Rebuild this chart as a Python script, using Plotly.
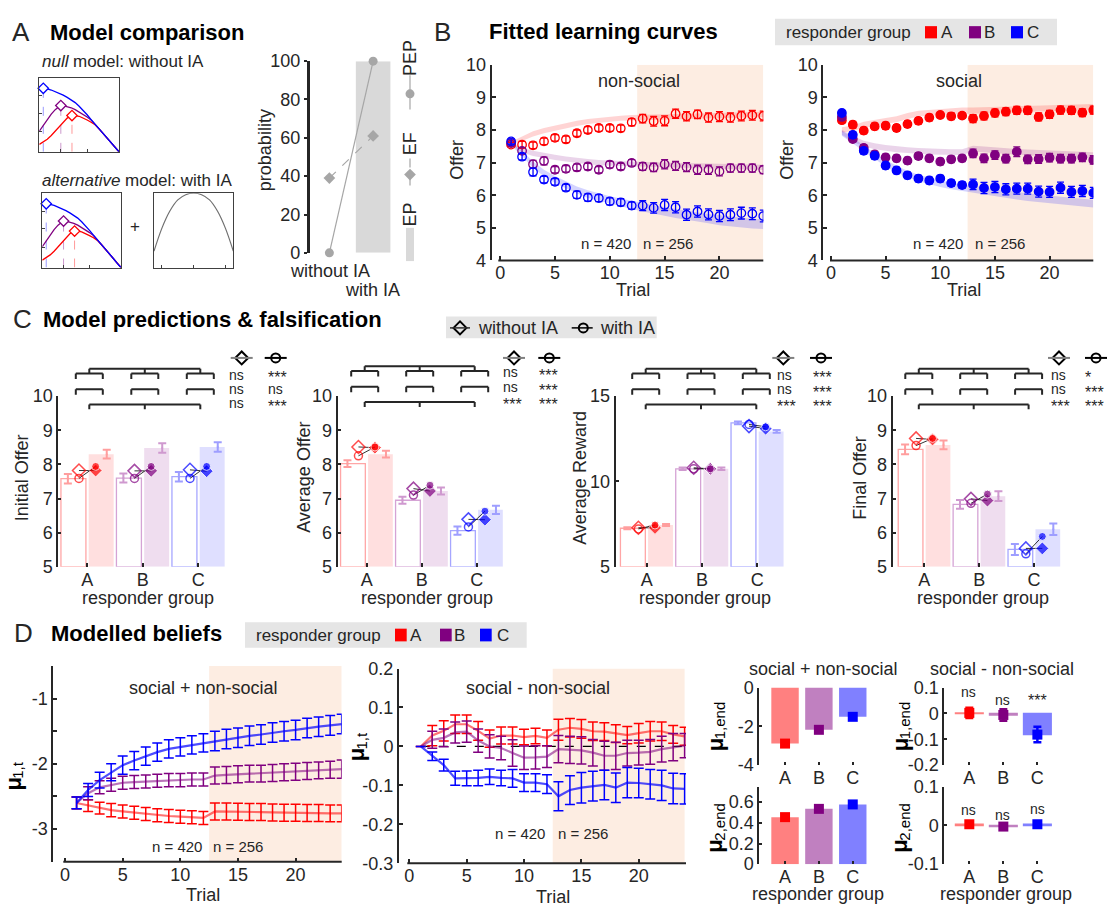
import plotly.graph_objects as go

W, H = 1111, 914
TXT = "#262626"
AXC = "#262626"
RED, PUR, BLU = "#FF0000", "#800080", "#0000FF"
GCOL = [RED, PUR, BLU]
PALE_EDGE = ["#FFA6A6", "#D5A3D5", "#A6A6FF"]
PALE_FILL = ["#FFDFDF", "#EFDDEF", "#DFDFFF"]
PALE_ERR = ["#FF9E9E", "#CF99CF", "#9E9EFF"]
BAND = ["rgba(255,0,0,0.17)", "rgba(128,0,128,0.17)", "rgba(0,0,255,0.17)"]
D_BAR = ["#FF8080", "#C080C0", "#8080FF"]
D_LINE = ["rgba(255,0,0,0.55)", "rgba(128,0,128,0.55)", "rgba(0,0,255,0.7)"]
VLINE = ["#FF9999", "#CC99CC", "#9999FF"]
SHADE = "#FDEDE2"
LEG_BG = "#E5E5E5"

# ======================= DATA =======================
groups = ["A", "B", "C"]
trials = list(range(1, 25))

# Panel A: schematic curves (box units)
curve_x = [0, 0.05, 0.1, 0.15, 0.2, 0.25, 0.3, 0.35, 0.4, 0.45, 0.5, 0.55, 0.6, 0.65, 0.7, 0.75, 0.8, 0.85, 0.9, 0.95, 1.0]
curve_A = [0.10, 0.13, 0.17, 0.22, 0.28, 0.34, 0.405, 0.455, 0.485, 0.49, 0.48, 0.46, 0.43, 0.40, 0.365, 0.31, 0.25, 0.19, 0.125, 0.06, 0.0]
curve_B = [0.28, 0.36, 0.44, 0.51, 0.57, 0.612, 0.625, 0.615, 0.595, 0.57, 0.54, 0.505, 0.47, 0.43, 0.375, 0.31, 0.25, 0.19, 0.125, 0.06, 0.0]
curve_C = [0.86, 0.858, 0.85, 0.835, 0.815, 0.79, 0.765, 0.735, 0.705, 0.665, 0.615, 0.56, 0.5, 0.435, 0.375, 0.31, 0.25, 0.19, 0.125, 0.06, 0.0]
peak_x = [0.41, 0.27, 0.05]
peak_y = [0.49, 0.625, 0.858]
ia_x = [0, 0.1, 0.2, 0.3, 0.4, 0.5, 0.6, 0.7, 0.8, 0.9, 1.0]
ia_y = [0.22, 0.53, 0.76, 0.91, 0.98, 1.0, 0.98, 0.91, 0.76, 0.53, 0.22]

models = ["without IA", "with IA"]
pep = [0, 100]
ef = [39, 61]
ep = [0, 100]

# Panel B: observed offers (non-social, social)
ns_A = [7.55, 7.55, 7.53, 7.65, 7.76, 7.71, 7.90, 8.00, 8.06, 8.06, 8.05, 8.24, 8.35, 8.27, 8.28, 8.50, 8.42, 8.48, 8.38, 8.41, 8.38, 8.43, 8.45, 8.43]
ns_B = [7.60, 7.36, 6.95, 7.05, 6.78, 6.81, 6.85, 6.88, 6.78, 6.94, 6.88, 6.99, 6.88, 6.85, 6.95, 6.90, 6.86, 6.78, 6.78, 6.73, 6.83, 6.83, 6.83, 6.78]
ns_C = [7.65, 7.18, 6.71, 6.48, 6.41, 6.23, 6.01, 5.93, 5.91, 5.81, 5.78, 5.68, 5.68, 5.61, 5.70, 5.63, 5.40, 5.50, 5.41, 5.36, 5.40, 5.45, 5.43, 5.36]
ns_A_err = [0.06, 0.1, 0.1, 0.1, 0.1, 0.1, 0.1, 0.1, 0.1, 0.1, 0.1, 0.11, 0.13, 0.15, 0.15, 0.14, 0.14, 0.13, 0.14, 0.15, 0.14, 0.15, 0.15, 0.15]
ns_B_err = [0.06, 0.1, 0.12, 0.12, 0.1, 0.1, 0.1, 0.1, 0.1, 0.1, 0.1, 0.1, 0.12, 0.13, 0.14, 0.14, 0.14, 0.14, 0.14, 0.14, 0.12, 0.12, 0.12, 0.12]
ns_C_err = [0.08, 0.1, 0.12, 0.1, 0.1, 0.1, 0.11, 0.11, 0.11, 0.11, 0.11, 0.11, 0.15, 0.16, 0.17, 0.17, 0.17, 0.17, 0.17, 0.17, 0.18, 0.18, 0.18, 0.18]
s_A = [8.30, 8.16, 7.98, 8.11, 8.13, 8.06, 8.18, 8.28, 8.38, 8.46, 8.42, 8.44, 8.35, 8.43, 8.52, 8.56, 8.60, 8.60, 8.40, 8.48, 8.61, 8.60, 8.53, 8.61]
s_B = [8.40, 7.72, 7.45, 7.25, 7.16, 7.13, 7.06, 7.20, 7.13, 7.03, 7.10, 7.13, 7.28, 7.13, 7.23, 7.12, 7.33, 7.10, 7.11, 7.15, 7.12, 7.12, 7.16, 7.08]
s_C = [8.52, 7.85, 7.36, 7.21, 6.91, 6.76, 6.61, 6.51, 6.45, 6.51, 6.37, 6.31, 6.33, 6.22, 6.25, 6.18, 6.20, 6.20, 6.11, 6.10, 6.23, 6.10, 6.13, 6.07]
s_A_err = [0.08, 0.1, 0.1, 0.1, 0.1, 0.1, 0.1, 0.1, 0.1, 0.08, 0.1, 0.08, 0.12, 0.12, 0.12, 0.12, 0.12, 0.12, 0.12, 0.12, 0.12, 0.12, 0.12, 0.12]
s_B_err = [0.08, 0.08, 0.1, 0.1, 0.1, 0.1, 0.1, 0.1, 0.1, 0.1, 0.1, 0.1, 0.13, 0.13, 0.13, 0.13, 0.15, 0.13, 0.13, 0.13, 0.13, 0.13, 0.13, 0.13]
s_C_err = [0.08, 0.1, 0.1, 0.1, 0.1, 0.1, 0.1, 0.1, 0.1, 0.1, 0.1, 0.1, 0.16, 0.17, 0.17, 0.17, 0.17, 0.17, 0.17, 0.17, 0.17, 0.17, 0.17, 0.17]

# Panel B: fitted curves (centre and half width of band)
nsfit_A = [7.60, 7.73, 7.88, 7.98, 8.06, 8.13, 8.20, 8.26, 8.30, 8.33, 8.36, 8.38, 8.38, 8.39, 8.40, 8.41, 8.42, 8.43, 8.44, 8.45, 8.46, 8.46, 8.47, 8.48]
nsfit_B = [7.60, 7.38, 7.28, 7.21, 7.16, 7.11, 7.06, 7.03, 7.00, 6.98, 6.97, 6.95, 6.94, 6.93, 6.92, 6.91, 6.90, 6.89, 6.89, 6.88, 6.87, 6.86, 6.86, 6.85]
nsfit_C = [7.58, 7.28, 6.93, 6.68, 6.48, 6.31, 6.16, 6.03, 5.93, 5.85, 5.78, 5.71, 5.63, 5.56, 5.50, 5.44, 5.38, 5.33, 5.28, 5.23, 5.19, 5.16, 5.13, 5.11]
nsfit_hw_A = [0.04, 0.07, 0.08, 0.08, 0.08, 0.08, 0.08, 0.08, 0.08, 0.08, 0.08, 0.08, 0.08, 0.08, 0.08, 0.08, 0.08, 0.08, 0.08, 0.08, 0.08, 0.08, 0.08, 0.08]
nsfit_hw_B = [0.04, 0.07, 0.08, 0.08, 0.08, 0.08, 0.08, 0.08, 0.08, 0.08, 0.08, 0.08, 0.08, 0.08, 0.08, 0.08, 0.08, 0.08, 0.08, 0.08, 0.08, 0.08, 0.08, 0.08]
nsfit_hw_C = [0.05, 0.08, 0.1, 0.1, 0.11, 0.11, 0.11, 0.12, 0.12, 0.12, 0.12, 0.13, 0.13, 0.13, 0.13, 0.14, 0.14, 0.14, 0.14, 0.15, 0.15, 0.15, 0.15, 0.15]
sfit_A = [8.00, 8.05, 8.16, 8.23, 8.28, 8.33, 8.43, 8.50, 8.53, 8.56, 8.58, 8.60, 8.60, 8.61, 8.63, 8.64, 8.65, 8.66, 8.67, 8.68, 8.69, 8.70, 8.70, 8.71]
sfit_B = [7.93, 7.73, 7.58, 7.50, 7.45, 7.41, 7.38, 7.36, 7.34, 7.33, 7.32, 7.32, 7.43, 7.40, 7.37, 7.35, 7.33, 7.31, 7.30, 7.28, 7.27, 7.25, 7.24, 7.23]
sfit_C = [7.90, 7.68, 7.43, 7.21, 6.98, 6.80, 6.65, 6.53, 6.43, 6.35, 6.28, 6.22, 6.18, 6.12, 6.07, 6.03, 5.98, 5.94, 5.90, 5.86, 5.83, 5.80, 5.77, 5.74]
sfit_hw_A = [0.08, 0.09, 0.09, 0.09, 0.09, 0.09, 0.09, 0.09, 0.09, 0.09, 0.09, 0.09, 0.09, 0.09, 0.09, 0.09, 0.09, 0.09, 0.09, 0.09, 0.09, 0.09, 0.09, 0.09]
sfit_hw_B = [0.08, 0.09, 0.09, 0.09, 0.09, 0.09, 0.09, 0.09, 0.09, 0.09, 0.09, 0.09, 0.09, 0.09, 0.09, 0.09, 0.09, 0.09, 0.09, 0.09, 0.09, 0.09, 0.09, 0.09]
sfit_hw_C = [0.08, 0.09, 0.09, 0.1, 0.1, 0.1, 0.1, 0.1, 0.1, 0.1, 0.1, 0.1, 0.11, 0.11, 0.11, 0.11, 0.11, 0.12, 0.12, 0.12, 0.12, 0.12, 0.12, 0.12]

# Panel C: empirical (bars) and model predictions (markers)
init_ns = [7.58, 7.60, 7.64]
init_ns_err = [0.14, 0.13, 0.14]
init_s = [8.30, 8.48, 8.51]
init_s_err = [0.13, 0.14, 0.14]
init_ns_noIA = [7.82, 7.81, 7.84]
init_ns_IA = [7.59, 7.59, 7.59]
init_s_noIA = [7.82, 7.81, 7.80]
init_s_IA = [7.94, 7.94, 7.94]
sig_init = [["ns", "ns", "ns"], ["***", "ns", "***"]]

avg_ns = [8.02, 6.95, 6.06]
avg_ns_err = [0.1, 0.1, 0.12]
avg_s = [8.30, 7.22, 6.67]
avg_s_err = [0.1, 0.1, 0.12]
avg_ns_noIA = [8.51, 7.29, 6.39]
avg_ns_IA = [8.25, 7.10, 6.17]
avg_s_noIA = [8.49, 7.22, 6.38]
avg_s_IA = [8.51, 7.39, 6.63]
sig_avg = [["ns", "ns", "***"], ["***", "***", "***"]]

rew_ns = [7.26, 10.74, 13.43]
rew_ns_err = [0.06, 0.07, 0.08]
rew_s = [7.45, 10.74, 12.93]
rew_s_err = [0.06, 0.07, 0.08]
rew_ns_noIA = [7.29, 10.80, 13.24]
rew_ns_IA = [7.22, 10.74, 13.34]
rew_s_noIA = [7.28, 10.74, 13.09]
rew_s_IA = [7.45, 10.74, 13.20]
sig_rew = [["ns", "ns", "***"], ["***", "***", "***"]]

fin_ns = [8.44, 6.83, 5.51]
fin_ns_err = [0.14, 0.13, 0.16]
fin_s = [8.57, 7.07, 6.10]
fin_s_err = [0.13, 0.14, 0.17]
fin_ns_noIA = [8.76, 6.99, 5.54]
fin_ns_IA = [8.55, 6.86, 5.38]
fin_s_noIA = [8.73, 6.94, 5.54]
fin_s_IA = [8.76, 7.13, 5.89]
sig_fin = [["ns", "ns", "***"], ["*", "***", "***"]]

# Panel D: modelled beliefs
d1_A = [-2.60, -2.64, -2.68, -2.71, -2.73, -2.75, -2.77, -2.79, -2.80, -2.81, -2.82, -2.83, -2.73, -2.73, -2.735, -2.74, -2.74, -2.745, -2.75, -2.75, -2.755, -2.755, -2.76, -2.76]
d1_B = [-2.60, -2.45, -2.36, -2.32, -2.29, -2.28, -2.27, -2.26, -2.25, -2.25, -2.24, -2.24, -2.18, -2.17, -2.16, -2.15, -2.15, -2.14, -2.13, -2.12, -2.11, -2.10, -2.09, -2.08]
d1_C = [-2.60, -2.40, -2.25, -2.13, -2.02, -1.95, -1.88, -1.82, -1.77, -1.74, -1.71, -1.68, -1.65, -1.62, -1.60, -1.57, -1.55, -1.52, -1.50, -1.48, -1.45, -1.43, -1.41, -1.39]
d1_A_err = [0.09, 0.09, 0.09, 0.1, 0.1, 0.1, 0.1, 0.1, 0.1, 0.1, 0.1, 0.1, 0.13, 0.13, 0.13, 0.13, 0.13, 0.13, 0.13, 0.13, 0.13, 0.13, 0.13, 0.13]
d1_B_err = [0.09, 0.1, 0.1, 0.1, 0.1, 0.1, 0.1, 0.1, 0.1, 0.1, 0.1, 0.1, 0.13, 0.13, 0.13, 0.13, 0.13, 0.13, 0.13, 0.13, 0.13, 0.13, 0.13, 0.14]
d1_C_err = [0.09, 0.1, 0.12, 0.13, 0.14, 0.14, 0.14, 0.14, 0.14, 0.14, 0.14, 0.14, 0.15, 0.15, 0.15, 0.15, 0.15, 0.15, 0.15, 0.15, 0.15, 0.15, 0.15, 0.15]
d2_A = [0.0, 0.028, 0.04, 0.057, 0.057, 0.04, 0.02, 0.028, 0.028, 0.024, 0.027, 0.022, 0.043, 0.048, 0.045, 0.039, 0.038, 0.033, 0.029, 0.034, 0.039, 0.039, 0.031, 0.026]
d2_B = [0.0, 0.017, 0.022, 0.036, 0.038, 0.015, 0.0, -0.004, -0.017, -0.029, -0.028, -0.026, -0.007, -0.009, -0.01, -0.016, -0.024, -0.024, -0.017, -0.016, -0.014, -0.007, -0.002, 0.002]
d2_C = [0.0, -0.025, -0.048, -0.082, -0.082, -0.081, -0.078, -0.081, -0.082, -0.093, -0.093, -0.097, -0.128, -0.112, -0.106, -0.102, -0.099, -0.106, -0.093, -0.094, -0.097, -0.1, -0.108, -0.109]
d2_A_err = [0, 0.026, 0.026, 0.024, 0.024, 0.024, 0.022, 0.022, 0.022, 0.02, 0.02, 0.02, 0.027, 0.024, 0.024, 0.024, 0.023, 0.023, 0.022, 0.025, 0.025, 0.024, 0.023, 0.023]
d2_B_err = [0, 0.022, 0.023, 0.027, 0.027, 0.03, 0.03, 0.03, 0.034, 0.03, 0.03, 0.028, 0.035, 0.035, 0.035, 0.034, 0.037, 0.035, 0.033, 0.032, 0.032, 0.033, 0.035, 0.031]
d2_C_err = [0, 0.011, 0.015, 0.018, 0.019, 0.02, 0.02, 0.02, 0.023, 0.023, 0.023, 0.024, 0.037, 0.037, 0.039, 0.038, 0.038, 0.038, 0.039, 0.038, 0.038, 0.039, 0.039, 0.039]

mu1_sum = [-2.89, -2.18, -1.51]
mu1_sum_err = [0.1, 0.08, 0.12]
mu2_sum = [0.455, 0.535, 0.578]
mu2_sum_err = [0.012, 0.01, 0.02]
mu1_diff = [0.002, -0.006, -0.082]
mu1_diff_err = [0.02, 0.022, 0.03]
mu2_diff = [0.003, -0.003, 0.003]
mu2_diff_err = [0.003, 0.003, 0.003]
sig_mu1_diff = ["ns", "ns", "***"]
sig_mu2_diff = ["ns", "ns", "ns"]

# ======================= FIGURE =======================
fig = go.Figure()
layout = dict(width=W, height=H, margin=dict(l=0, r=0, t=0, b=0), paper_bgcolor="white",
              plot_bgcolor="rgba(0,0,0,0)", showlegend=False, barmode="overlay",
              font=dict(family="Arial", size=17, color=TXT))
shapes, annotations, overlay = [], [], []
_n = [0]
TICKSIZE = 18


def new_axes(x0, x1, y0, y1, xr, yr, xa=None, ya=None):
    _n[0] += 1
    k = _n[0]
    s = "" if k == 1 else str(k)
    base = dict(showgrid=False, zeroline=False, showline=False, ticks="", showticklabels=False, fixedrange=True)
    xd = dict(base, domain=[max(0, x0 / W), min(1, x1 / W)], range=xr, anchor="y" + s)
    yd = dict(base, domain=[max(0, 1 - y1 / H), min(1, 1 - y0 / H)], range=yr, anchor="x" + s)
    if xa:
        xd.update(xa)
    if ya:
        yd.update(ya)
    layout["xaxis" + s] = xd
    layout["yaxis" + s] = yd
    return "x" + s, "y" + s


def tk(vals, text=None, ticks="inside", length=4, width=1.5, size=TICKSIZE):
    d = dict(tickvals=vals, showticklabels=True, ticks=ticks, ticklen=length, tickwidth=width,
             tickcolor=AXC, tickfont=dict(size=size, color=TXT, family="Arial"))
    if text is not None:
        d["ticktext"] = text
    return d


LINE = dict(showline=True, linecolor=AXC, linewidth=2)


def text(px, py, s, size=17, xa="center", ya="middle", angle=0, color=TXT, pad=1, weight="normal",
         style="normal"):
    annotations.append(dict(x=px / W, y=1 - py / H, xref="paper", yref="paper", text=s, showarrow=False,
                            xanchor=xa, yanchor=ya, textangle=angle, borderpad=pad,
                            font=dict(size=size, color=color, family="Arial", weight=weight, style=style)))


def title(px, py, s):
    text(px, py, s, size=22, xa="left", color="#000000", weight="bold")


def mu_label(px, py, sub):
    # bold mu followed by a subscript, rotated to read bottom-to-top
    sub_len = {"1,t": 16.7, "1,end": 37.5, "2,end": 37.5}[sub]
    total = 12.7 + sub_len
    text(px, py + total / 2 - 6.4, "μ", size=22, angle=-90, color="#000000", weight="bold", pad=0)
    text(px + 4.5, py + total / 2 - 12.7 - sub_len / 2, sub, size=15, angle=-90, color="#000000", pad=0)


def sig_text(px, py, s, xa="left"):
    # asterisks sit high in the font, so they are lowered to line up with "ns"
    if "*" in s:
        text(px, py + 3.5, s, size=16, xa=xa, pad=0)
    else:
        text(px, py, s, size=14, xa=xa, pad=0)


def pline(x0, y0, x1, y1, color=AXC, width=2, dash="solid"):
    shapes.append(dict(type="line", xref="paper", yref="paper", x0=x0 / W, y0=1 - y0 / H, x1=x1 / W,
                       y1=1 - y1 / H, line=dict(color=color, width=width, dash=dash)))


def prect(x0, y0, x1, y1, fill):
    shapes.append(dict(type="rect", xref="paper", yref="paper", x0=x0 / W, y0=1 - y1 / H, x1=x1 / W,
                       y1=1 - y0 / H, fillcolor=fill, line=dict(width=0), layer="below"))


def ppath(segs, color=AXC, width=2):
    d = "".join("M{:.5f},{:.5f}L{:.5f},{:.5f}".format(a / W, 1 - b / H, c / W, 1 - e / H) for a, b, c, e in segs)
    shapes.append(dict(type="path", xref="paper", yref="paper", path=d, line=dict(color=color, width=width)))


def drect(xn, yn, x0, x1, y0, y1, fill):
    shapes.append(dict(type="rect", xref=xn, yref=yn, x0=x0, x1=x1, y0=y0, y1=y1, fillcolor=fill,
                       line=dict(width=0), layer="below"))


def add(tr, xn, yn):
    tr.update(xaxis=xn, yaxis=yn)
    fig.add_trace(tr)


# ---------------- Panel A ----------------
text(10, 23, "A", size=26, xa="left")
title(48, 23, "Model comparison")
text(41, 53, "null", xa="left", style="italic", pad=0)
text(41 + 26.5 + 4.7, 53, "model: without IA", xa="left", pad=0)
text(41, 174.5, "alternative", xa="left", style="italic", pad=0)
text(41 + 78.4 + 4.7, 174.5, "model: with IA", xa="left", pad=0)
text(135, 221.7, "+", size=17)

box_style = dict(showline=True, mirror=True, linecolor="#404040", linewidth=1, ticks="inside", ticklen=3,
                 tickcolor="#404040", tickwidth=1)


def value_box(x0, x1, y0, y1):
    xn, yn = new_axes(x0, x1, y0, y1, [0, 1], [0, 1.0],
                      xa=dict(box_style, tickvals=[0.27, 0.6]), ya=dict(box_style, tickvals=[0.27, 0.52, 0.76]))
    for g in range(3):
        add(go.Scatter(x=[peak_x[g], peak_x[g]], y=[0, peak_y[g]], mode="lines",
                       line=dict(color=VLINE[g], width=1, dash="dash")), xn, yn)
    for g, cv in zip([0, 1, 2], [curve_A, curve_B, curve_C]):
        add(go.Scatter(x=curve_x, y=cv, mode="lines", line=dict(color=GCOL[g], width=1.3)), xn, yn)
    for g in range(3):
        add(go.Scatter(x=[peak_x[g]], y=[peak_y[g]], mode="markers", cliponaxis=False,
                       marker=dict(symbol="diamond", size=8, color="white",
                                   line=dict(color=GCOL[g], width=1.3))), xn, yn)


value_box(39.3, 119, 69.3, 145)
value_box(42.3, 121, 187.3, 263.3)
xn, yn = new_axes(154, 233.3, 187.3, 263.3, [0, 1], [0, 1.0],
                  xa=dict(box_style, tickvals=[0.1, 0.5, 0.9]), ya=dict(box_style, tickvals=[]))
add(go.Scatter(x=ia_x, y=ia_y, mode="lines", line=dict(color="#707070", width=1.2, shape="spline")), xn, yn)

xn, yn = new_axes(309.7, 395, 52.3, 248.3, [0.55, 2.5], [0, 100],
                  ya=dict(LINE, linewidth=2.5, **tk([0, 20, 40, 60, 80, 100], ticks="outside", length=3)))
add(go.Bar(x=[1, 2], y=ep, width=0.79, marker=dict(color="#D9D9D9", line=dict(width=0))), xn, yn)
add(go.Scatter(x=[1, 2], y=pep, mode="lines+markers", cliponaxis=False, line=dict(color="#A6A6A6", width=1.2),
               marker=dict(symbol="circle", size=9, color="#A6A6A6")), xn, yn)
add(go.Scatter(x=[1, 2], y=ef, mode="lines+markers", cliponaxis=False,
               line=dict(color="#A6A6A6", width=1.2, dash="dash"),
               marker=dict(symbol="diamond", size=9, color="#A6A6A6")), xn, yn)
text(265, 143.3, "probability", size=18, angle=-90)
text(330, 266.7, models[0], size=18)
text(372, 286.7, models[1], size=18)
text(410, 49, "PEP", size=18, angle=-90)
text(410, 137.3, "EF", size=18, angle=-90)
text(410, 209, "EP", size=18, angle=-90)
pline(410, 66.7, 410, 101.7, "#A6A6A6", 1.2)
overlay.append((410, 85.7, "circle", 9, "#A6A6A6", "#A6A6A6", 0))
pline(410, 151.7, 410, 185, "#A6A6A6", 1.2, "dash")
overlay.append((410, 168.3, "diamond", 9, "#A6A6A6", "#A6A6A6", 0))
prect(406, 222.7, 414, 256.7, "#D9D9D9")

# ---------------- Panel B ----------------
text(432, 22, "B", size=26, xa="left")
title(487, 22, "Fitted learning curves")
prect(775, 9, 1057, 36, LEG_BG)
text(784, 22.7, "responder group", xa="left")
for g, (xs, xl) in enumerate([(925, 939), (969, 982), (1011, 1025)]):
    prect(xs, 16.5, xs + 12, 29, GCOL[g])
    text(xl, 22.7, groups[g], xa="left")


def b_panel(x0, x1, xr, obs, errs, fits, hws, filled, label, label_x, n_x, xaxis_start):
    xn, yn = new_axes(x0, x1, 56, 256, xr, [4, 10], xa=tk([0, 5, 10, 15, 20]),
                      ya=dict(LINE, **tk([4, 5, 6, 7, 8, 9, 10])))
    drect(xn, yn, 12.5, 24, 4, 10, SHADE)
    pline(xaxis_start, 256, x1, 256)
    for g in range(3):
        up = [c + h for c, h in zip(fits[g], hws[g])]
        lo = [c - h for c, h in zip(fits[g], hws[g])]
        add(go.Scatter(x=trials + trials[::-1], y=up + lo[::-1], mode="lines", fill="toself",
                       fillcolor=BAND[g], line=dict(width=0)), xn, yn)
    for g in range(3):
        add(go.Scatter(x=trials, y=obs[g], mode="markers",
                       marker=dict(symbol="circle" if filled else "circle-open", size=8.5, color=GCOL[g],
                                   line=dict(color=GCOL[g], width=1.3)),
                       error_y=dict(type="data", array=errs[g], color=GCOL[g], thickness=1.3, width=3.5)),
            xn, yn)
    text(label_x, 73, label, size=18)
    text(n_x[0], 239, "n = 420", size=15)
    text(n_x[1], 239, "n = 256", size=15)
    return xn, yn


b_panel(491.7, 763.3, [-0.77, 24], [ns_A, ns_B, ns_C], [ns_A_err, ns_B_err, ns_C_err],
        [nsfit_A, nsfit_B, nsfit_C], [nsfit_hw_A, nsfit_hw_B, nsfit_hw_C], False, "non-social", 639,
        (606, 668), 498.3)
b_panel(823.3, 1093.3, [-0.7, 24], [s_A, s_B, s_C], [s_A_err, s_B_err, s_C_err],
        [sfit_A, sfit_B, sfit_C], [sfit_hw_A, sfit_hw_B, sfit_hw_C], True, "social", 959,
        (938, 1000), 830)
text(457, 153, "Offer", size=18, angle=-90)
text(787, 153, "Offer", size=18, angle=-90)
text(633, 286, "Trial", size=18)
text(964, 286, "Trial", size=18)

# ---------------- Panel C ----------------
text(11, 316, "C", size=26, xa="left")
title(41, 316, "Model predictions &amp; falsification")
prect(446, 313.3, 656.7, 335.7, LEG_BG)
pline(450, 325, 470, 325, "#303030", 1.5)
overlay.append((460, 325, "diamond-open", 10, "#000000", "#000000", 2))
text(476, 325, "without IA", size=18, xa="left")
pline(571.7, 325, 592.7, 325, "#000000", 1.5)
overlay.append((583.3, 325, "circle-open", 9, "#000000", "#000000", 2))
text(597.5, 325, "with IA", size=18, xa="left")


def c_panel(xa_px, a_px, sp, yr, yt, ns, ns_e, s, s_e, ns0, ns1, s0, s1, sig, cols, hdrs, ytitle,
            ytitle_x, bshift, bdy, xlab_x):
    right_px = a_px + 2 * sp + 28
    xr = [1 - (a_px - xa_px) / sp, 1 + (right_px - a_px) / sp]
    xn, yn = new_axes(xa_px, right_px, 394.7, 569.3, xr, yr, xa=tk([1, 2, 3], groups, width=2, length=4),
                      ya=dict(LINE, **tk(yt, length=3)))
    ymin = yr[0]
    pos = [1, 2, 3]
    add(go.Bar(x=[p - 0.25 for p in pos], y=[v - ymin for v in ns], base=ymin, width=0.45,
               marker=dict(color="white", line=dict(color=PALE_EDGE, width=1.3))), xn, yn)
    add(go.Bar(x=[p + 0.25 for p in pos], y=[v - ymin for v in s], base=ymin, width=0.45,
               marker=dict(color=PALE_FILL, line=dict(width=0))), xn, yn)
    for g in range(3):
        p = pos[g]
        add(go.Scatter(x=[p - 0.35, p + 0.35], y=[ns[g], s[g]], mode="markers",
                       marker=dict(size=2, color=PALE_ERR[g]),
                       error_y=dict(type="data", array=[ns_e[g], s_e[g]], color=PALE_ERR[g], thickness=2,
                                    width=4)), xn, yn)
        add(go.Scatter(x=[p - 0.15, p + 0.15, None, p - 0.15, p + 0.15], y=[ns0[g], s0[g], None, ns1[g], s1[g]],
                       mode="lines", line=dict(color="#000000", width=0.8)), xn, yn)
        add(go.Scatter(x=[p - 0.15, p - 0.15], y=[ns0[g], ns1[g]], mode="markers",
                       marker=dict(symbol=["diamond-open", "circle-open"], size=[10, 8], color=GCOL[g],
                                   line=dict(color=GCOL[g], width=1.5))), xn, yn)
        add(go.Scatter(x=[p + 0.15, p + 0.15], y=[s0[g], s1[g]], mode="markers",
                       marker=dict(symbol=["diamond", "circle"], size=[10, 8], color=GCOL[g])), xn, yn)
    # significance brackets
    cx = [a_px + i * sp + bshift for i in range(3)]
    hw = 13.5
    yt_, ys = 366.7 + bdy, 371.7 + bdy
    y2, y3 = 387.7 + bdy, 403.3 + bdy
    segs = [(cx[0], yt_, cx[2], yt_), (cx[0], y3, cx[2], y3)]
    for c in cx:
        segs += [(c, yt_, c, ys), (c - hw, ys, c + hw, ys), (c - hw, ys, c - hw, ys + 5.6),
                 (c + hw, ys, c + hw, ys + 5.6)]
        segs += [(c - hw, y2, c + hw, y2), (c - hw, y2, c - hw, y2 + 5.6), (c + hw, y2, c + hw, y2 + 5.6)]
        segs += [(c, y3, c, y3 + 5)]
    ppath(segs, width=2)
    rows = [372.7 + bdy, 387.7 + bdy, 402.2 + bdy]
    for col in range(2):
        for r in range(3):
            sig_text(cols[col], rows[r], sig[col][r])
    hy = 355.7
    pline(hdrs[0] - 11, hy, hdrs[0] + 11, hy, "#808080", 2)
    overlay.append((hdrs[0], hy, "diamond-open", 10, "#000000", "#000000", 2))
    pline(hdrs[1] - 11, hy, hdrs[1] + 11, hy, "#000000", 2)
    overlay.append((hdrs[1], hy, "circle-open", 9, "#000000", "#000000", 2))
    text(ytitle_x, 478, ytitle, size=18, angle=-90)
    text(xlab_x, 601, "responder group", size=18)


c_panel(58.3, 87.3, 55.5, [5, 10], [5, 6, 7, 8, 9, 10], init_ns, init_ns_err, init_s, init_s_err,
        init_ns_noIA, init_ns_IA, init_s_noIA, init_s_IA, sig_init, (228, 267), (241.7, 275.7),
        "Initial Offer", 21.7, 2, 0, 147.7)
c_panel(337.7, 366.7, 55, [5, 10], [5, 6, 7, 8, 9, 10], avg_ns, avg_ns_err, avg_s, avg_s_err,
        avg_ns_noIA, avg_ns_IA, avg_s_noIA, avg_s_IA, sig_avg, (502, 537.5), (514, 549.3),
        "Average Offer", 303.3, -2, -2.5, 426.8)
c_panel(615.7, 646.7, 55.3, [5, 15], [5, 10, 15], rew_ns, rew_ns_err, rew_s, rew_s_err,
        rew_ns_noIA, rew_ns_IA, rew_s_noIA, rew_s_IA, sig_rew, (776, 812), (783.3, 821),
        "Average Reward", 579.3, -1, 0, 705.4)
c_panel(892.7, 924.3, 54.9, [5, 10], [5, 6, 7, 8, 9, 10], fin_ns, fin_ns_err, fin_s, fin_s_err,
        fin_ns_noIA, fin_ns_IA, fin_s_noIA, fin_s_IA, sig_fin, (1049.5, 1084), (1059, 1096),
        "Final Offer", 859.3, -5.5, 0, 983.3)

# ---------------- Panel D ----------------
text(12, 637, "D", size=26, xa="left")
title(49, 637, "Modelled beliefs")
prect(245, 626, 526.7, 652, LEG_BG)
text(254, 639, "responder group", xa="left")
for g, (xs, xl) in enumerate([(395, 408), (440, 451.5), (480, 495)]):
    prect(xs, 632.5, xs + 11.7, 645.5, GCOL[g])
    text(xl, 639, groups[g], xa="left")


def traj_panel(x0, x1, y0, y1, xr, yr, yv, yt, minor_vals, xline_start):
    ya = dict(LINE, **tk(yv, yt))
    if minor_vals:
        ya["minor"] = dict(tickvals=minor_vals, ticks="inside", ticklen=4, tickwidth=1.5, tickcolor=AXC)
    xn, yn = new_axes(x0, x1, y0, y1, xr, yr, xa=tk([0, 5, 10, 15, 20]), ya=ya)
    drect(xn, yn, 12.5, 24, yr[0], yr[1], SHADE)
    pline(xline_start, y1, x1, y1)
    return xn, yn


xn, yn = traj_panel(53.3, 341.7, 670.7, 870.7, [-1.02, 24], [-3.5, -0.5],
                    [-3, -2, -1], ["-3", "-2", "-1"], [-3.5, -2.5, -1.5, -0.5], 63.3)
for g, (m, e) in enumerate(zip([d1_A, d1_B, d1_C], [d1_A_err, d1_B_err, d1_C_err])):
    add(go.Scatter(x=trials, y=m, mode="lines", line=dict(color=D_LINE[g], width=2.2),
                   error_y=dict(type="data", array=e, color=GCOL[g], thickness=1.5, width=5)), xn, yn)
text(203.3, 693.3, "social + non-social", size=18)
text(176.7, 855.7, "n = 420", size=15)
text(238.3, 855.7, "n = 256", size=15)
text(203.3, 905, "Trial", size=18)
mu_label(13.3, 783.3, "1,t")

xn, yn = traj_panel(399, 686, 673.3, 872.3, [-0.9, 24.12], [-0.3, 0.2],
                    [-0.3, -0.2, -0.1, 0, 0.1, 0.2], ["-0.3", "-0.2", "-0.1", "0", "0.1", "0.2"], None, 407.3)
shapes.append(dict(type="line", xref=xn, yref=yn, x0=1, x1=24, y0=0, y1=0, layer="below",
                   line=dict(color="#000000", width=1.2, dash="dash")))
for g, (m, e) in enumerate(zip([d2_A, d2_B, d2_C], [d2_A_err, d2_B_err, d2_C_err])):
    add(go.Scatter(x=trials, y=m, mode="lines", line=dict(color=D_LINE[g], width=2.2),
                   error_y=dict(type="data", array=e, color=GCOL[g], thickness=1.5, width=5)), xn, yn)
text(538.3, 693.3, "social - non-social", size=18)
text(520, 841.7, "n = 420", size=15)
text(582.7, 841.7, "n = 256", size=15)
text(553.3, 906.7, "Trial", size=18)
mu_label(356.7, 753, "1,t")


def end_panel(x0, x1, y0, y1, xr, yr, yv, yt, vals, errs, thin):
    xn, yn = new_axes(x0, x1, y0, y1, xr, yr, xa=tk([1, 2, 3], groups, length=3, width=2),
                      ya=dict(LINE, **tk(yv, yt, length=3)))
    add(go.Bar(x=[1, 2, 3], y=vals, width=0.81,
               marker=dict(color=D_BAR, line=dict(color=D_BAR, width=1.5 if thin else 0))), xn, yn)
    for g in range(3):
        add(go.Scatter(x=[g + 1], y=[vals[g]], mode="markers", cliponaxis=False,
                       marker=dict(symbol="square", size=10, color=GCOL[g]),
                       error_y=dict(type="data", array=[errs[g]], color=GCOL[g], thickness=2.5, width=4)),
            xn, yn)
    return xn, yn


end_panel(759.3, 868, 692.7, 772, [0.24, 3.45], [-4, 0], [-4, -2, 0], ["-4", "-2", "0"],
          mu1_sum, mu1_sum_err, False)
end_panel(759.3, 868, 794, 873.3, [0.24, 3.45], [0, 0.75], [0, 0.2, 0.4, 0.6], ["0", "0.2", "0.4", "0.6"],
          mu2_sum, mu2_sum_err, False)
end_panel(944.3, 1052, 692.7, 772, [0.265, 3.43], [-0.2, 0.1], [-0.2, -0.1, 0, 0.1],
          ["-0.2", "-0.1", "0", "0.1"], mu1_diff, mu1_diff_err, True)
end_panel(944.3, 1052, 794, 873.3, [0.265, 3.43], [-0.1, 0.1], [-0.1, 0, 0.1], ["-0.1", "0", "0.1"],
          mu2_diff, mu2_diff_err, True)
text(823.3, 673.3, "social + non-social", size=18)
text(1001.7, 673.3, "social - non-social", size=18)
mu_label(715, 733, "1,end")
mu_label(715, 836.7, "2,end")
mu_label(900, 733, "1,end")
mu_label(900, 836.7, "2,end")
text(818.3, 903.3, "responder group", size=18)
text(1006, 903.3, "responder group", size=18)
for g, (px, py) in enumerate([(968.3, 697.3), (1002.7, 705), (1037.3, 702.3)]):
    sig_text(px, py, sig_mu1_diff[g], xa="center")
for g, (px, py) in enumerate([(968.3, 818.3), (1002.7, 823.3), (1037.3, 816.7)]):
    sig_text(px, py, sig_mu2_diff[g], xa="center")

# ---------------- overlay (pixel) axes for legend / header markers ----------------
xo, yo = new_axes(0, W, 0, H, [0, W], [H, 0])
for (px, py, sym, size, col, lcol, lw) in overlay:
    add(go.Scatter(x=[px], y=[py], mode="markers", cliponaxis=False,
                   marker=dict(symbol=sym, size=size, color=col, line=dict(color=lcol, width=lw))), xo, yo)

layout["shapes"] = shapes
layout["annotations"] = annotations
fig.update_layout(**layout)
fig.write_html("out.html")
